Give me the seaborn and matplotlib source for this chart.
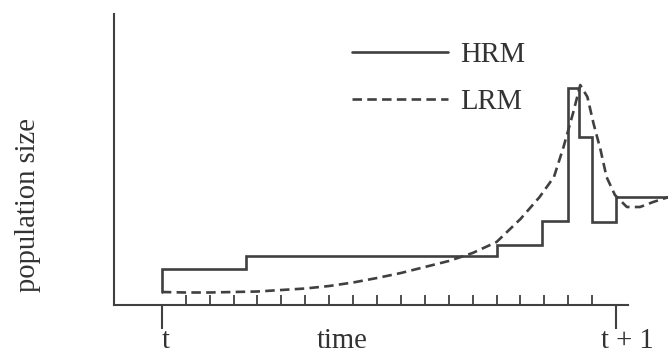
import matplotlib
matplotlib.use("Agg")
import matplotlib.pyplot as plt
import matplotlib.transforms as mtransforms
import seaborn as sns
import pandas as pd

# ---- data ----
hrm_x = [0, 0, 3.5, 14, 15.9, 17, 17.45, 18, 19, 21.2]
hrm_y = [1.3, 3.6, 4.9, 6.0, 8.4, 21.7, 16.8, 8.3, 10.8, 10.8]

lrm_x = [0, 1, 2, 3, 4, 5, 6, 7, 8, 9, 10, 11, 12, 13, 14, 15, 15.8, 16.4,
         16.8, 17.2, 17.5, 17.8, 18.05, 18.35, 18.6, 18.95, 19.45, 20.0, 20.55, 21.2]
lrm_y = [1.3, 1.25, 1.25, 1.3, 1.35, 1.5, 1.65, 1.9, 2.25, 2.7, 3.2, 3.8, 4.4, 5.2,
         6.3, 8.6, 10.8, 12.8, 15.8, 19.2, 22.0, 20.8, 18.2, 15.5, 12.8, 11.0, 9.8,
         9.8, 10.3, 10.8]

major_ticks = [0, 19]
major_labels = ["t", "t + 1"]
minor_ticks = list(range(1, 19))
series_labels = ["HRM", "LRM"]

# ---- style ----
sns.set_theme(style="white")
plt.rcParams["font.family"] = ["Liberation Serif", "DejaVu Serif"]

INK = "#404040"
TXT = "#333333"
FS = 20.6

fig = plt.figure(figsize=(6.68, 3.54), dpi=100)
ax = fig.add_axes([114 / 668, 49 / 354, 554 / 668, 291 / 354])

hrm = pd.DataFrame({"x": hrm_x, "y": hrm_y})
lrm = pd.DataFrame({"x": lrm_x, "y": lrm_y})

sns.lineplot(data=hrm, x="x", y="y", ax=ax, color=INK, linewidth=1.9,
             drawstyle="steps-post", estimator=None, sort=False)
sns.lineplot(data=lrm, x="x", y="y", ax=ax, color=INK, linewidth=1.9,
             estimator=None, sort=False)
ax.lines[0].set_solid_joinstyle("miter")
ax.lines[1].set_linestyle((0, (3.6, 2.0)))

ax.set_xlim(-2.0, 21.17)
ax.set_ylim(0, 29.1)

for s in ["top", "right"]:
    ax.spines[s].set_visible(False)
for s in ["left", "bottom"]:
    ax.spines[s].set_color(INK)
    ax.spines[s].set_linewidth(1.5)
ax.spines["bottom"].set_bounds(-2.0, 19.5)

ax.set_yticks([])
ax.set_xticks(major_ticks)
ax.set_xticklabels([])
ax.set_xticks(minor_ticks, minor=True)
ax.tick_params(axis="x", which="major", direction="out", length=17.5,
               width=1.5, color=INK, bottom=True)
ax.tick_params(axis="x", which="minor", direction="in", length=7.5,
               width=1.3, color=INK, bottom=True)

# tick labels as text (slightly offset like the reference)
trans = mtransforms.blended_transform_factory(ax.transData, ax.transAxes)
lab_y = -(353.5 - 305) / 291  # bottom of text box at the figure edge
offsets = [0.15, 0.45]
for xv, lab, off in zip(major_ticks, major_labels, offsets):
    ax.text(xv + off, lab_y, lab, transform=trans, ha="center", va="bottom",
            fontsize=FS, color=TXT)

ax.set_xlabel("time", fontsize=FS, color=TXT)
ax.xaxis.set_label_coords((342 - 114) / 554, lab_y)
ax.xaxis.label.set_va("bottom")

ax.set_ylabel("population size", fontsize=FS, color=TXT)
ax.yaxis.set_label_coords((41 - 114) / 554, (305 - 205) / 291)

handles = [ax.lines[0], ax.lines[1]]
leg = ax.legend(handles, series_labels, loc="upper left",
                bbox_to_anchor=(352 / 668, 1 - 42 / 354),
                bbox_transform=fig.transFigure, frameon=False, fontsize=FS,
                handlelength=3.36, handletextpad=0.42, labelspacing=0.72,
                borderpad=0, borderaxespad=0)
for t in leg.get_texts():
    t.set_color(TXT)

fig.savefig("out.png", dpi=100)
